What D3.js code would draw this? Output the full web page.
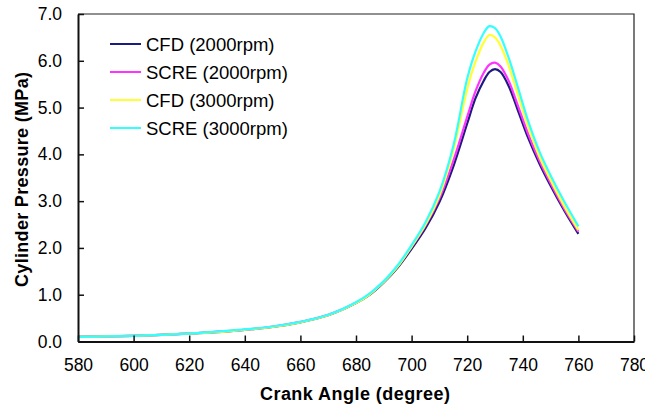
<!DOCTYPE html>
<html>
<head>
<meta charset="utf-8">
<title>Cylinder Pressure</title>
<script src="https://d3js.org/d3.v7.min.js"></script>
<style>
	body { margin: 0; background: #fff; }
	svg { display: block; }
	text { font-family: "Liberation Sans", Arial, sans-serif; fill: #000; }
	.tick text { font-size: 17.5px; }
	.title { font-size: 18px; font-weight: bold; }
	.legend text { font-size: 18.5px; }
</style>
</head>
<body>
<svg width="645" height="409"></svg>
<script>
// crank angle (degree)
var angles = [580,590,600,610,620,630,640,650,660,670,680,685,690,695,700,705,710,715,720,723,726,728,730,732,735,738,742,746,750,755,760];

// cylinder pressure (MPa)
var cfd2000  = [0.10,0.11,0.12,0.14,0.17,0.20,0.25,0.31,0.41,0.56,0.82,1.00,1.26,1.58,1.98,2.42,2.98,3.74,4.66,5.20,5.58,5.76,5.82,5.76,5.45,4.98,4.34,3.80,3.33,2.79,2.30];
var scre2000 = [0.10,0.11,0.12,0.14,0.17,0.21,0.25,0.32,0.42,0.57,0.83,1.02,1.28,1.61,2.02,2.48,3.06,3.86,4.80,5.35,5.75,5.92,5.96,5.88,5.56,5.08,4.42,3.86,3.38,2.83,2.35];
var cfd3000  = [0.10,0.11,0.12,0.14,0.17,0.20,0.25,0.31,0.41,0.56,0.82,1.01,1.27,1.60,2.03,2.50,3.12,4.08,5.40,5.98,6.40,6.55,6.50,6.32,5.88,5.32,4.58,3.95,3.45,2.88,2.38];
var scre3000 = [0.10,0.11,0.12,0.14,0.17,0.21,0.26,0.32,0.42,0.57,0.84,1.03,1.29,1.63,2.06,2.55,3.20,4.18,5.62,6.20,6.60,6.74,6.70,6.52,6.05,5.48,4.70,4.06,3.55,2.98,2.46];

var seriesNames = ["CFD (2000rpm)", "SCRE (2000rpm)", "CFD (3000rpm)", "SCRE (3000rpm)"];
var seriesValues = [cfd2000, scre2000, cfd3000, scre3000];
var seriesColors = ["#1c1c80", "#ff33ff", "#ffff33", "#33ffff"];

var xTicks = [580,600,620,640,660,680,700,720,740,760,780];
var yTicks = [0,1,2,3,4,5,6,7];

var svg = d3.select("svg");
var plotL = 78, plotR = 634, plotT = 14, plotB = 341.5;

var x = d3.scaleLinear().domain([580, 780]).range([plotL, plotR]);
var y = d3.scaleLinear().domain([0, 7]).range([plotB, plotT]);

// frame (top and right)
svg.append("path")
	.attr("d", "M" + plotL + "," + plotT + "H" + plotR + "V" + plotB)
	.attr("fill", "none")
	.attr("stroke", "#222")
	.attr("stroke-width", 1.2);

// curves
var line = d3.line()
	.x(function(d) { return x(d[0]); })
	.y(function(d) { return y(d[1]); })
	.curve(d3.curveCatmullRom);

seriesValues.forEach(function(vals, i) {
	svg.append("path")
		.datum(angles.map(function(a, j) { return [a, vals[j]]; }))
		.attr("fill", "none")
		.attr("stroke", seriesColors[i])
		.attr("stroke-width", 2.2)
		.attr("d", line);
});

// axes
var xAxis = svg.append("g")
	.attr("transform", "translate(0," + plotB + ")")
	.call(d3.axisBottom(x).tickValues(xTicks).tickSizeInner(-6).tickSizeOuter(0).tickPadding(17).tickFormat(d3.format("d")));
var yAxis = svg.append("g")
	.attr("transform", "translate(" + plotL + ",0)")
	.call(d3.axisLeft(y).tickValues(yTicks).tickSizeInner(-6).tickSizeOuter(0).tickPadding(16).tickFormat(d3.format(".1f")));

[xAxis, yAxis].forEach(function(ax) {
	ax.select(".domain").attr("stroke", "#111").attr("stroke-width", 2);
	ax.selectAll(".tick line").attr("stroke", "#111").attr("stroke-width", 1.5);
	ax.selectAll(".tick text").attr("fill", "#111");
	ax.attr("font-family", null).attr("font-size", null);
});

// titles
svg.append("text")
	.attr("class", "title")
	.attr("x", 355)
	.attr("y", 400)
	.attr("text-anchor", "middle")
	.attr("textLength", 190)
	.text("Crank Angle (degree)");

svg.append("text")
	.attr("class", "title")
	.attr("transform", "translate(28,179.5) rotate(-90)")
	.attr("text-anchor", "middle")
	.attr("textLength", 215)
	.text("Cylinder Pressure (MPa)");

// legend
var legend = svg.append("g").attr("class", "legend");
seriesNames.forEach(function(name, i) {
	var ly = 44 + i * 28;
	legend.append("line")
		.attr("x1", 110).attr("x2", 141)
		.attr("y1", ly).attr("y2", ly)
		.attr("stroke", seriesColors[i])
		.attr("stroke-width", 2);
	legend.append("text")
		.attr("x", 146)
		.attr("y", ly + 6.5)
		.text(name);
});
</script>
</body>
</html>
